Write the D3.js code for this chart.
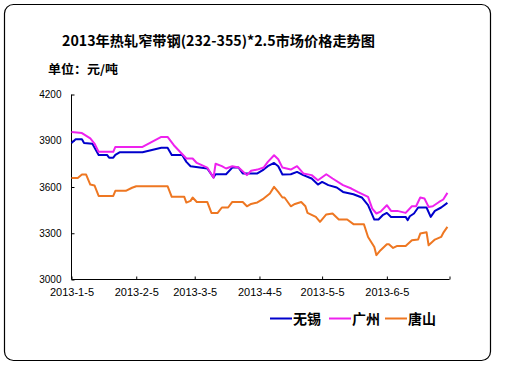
<!doctype html>
<html lang="zh">
<head>
<meta charset="utf-8">
<style>
html, body { margin: 0; padding: 0; background: #fff; overflow: hidden; }
svg { display: block; }
.tick text { font-family: "Liberation Sans", Arial, sans-serif; font-size: 11px; fill: #000; }
.y-axis .tick text { font-size: 10px; }
.cjk { font-family: "Noto Sans CJK SC", sans-serif; font-weight: bold; fill: #000; }
</style>
</head>
<body>
<svg id="chart" width="512" height="384"></svg>
<script src="https://cdn.jsdelivr.net/npm/d3@7/dist/d3.min.js"></script>
<script>
const title = '2013年热轧窄带钢(232-355)*2.5市场价格走势图';
const unitLabel = '单位：元/吨';
const seriesNames = ['无锡', '广州', '唐山'];
const seriesColors = ['#0000cc', '#ee22ee', '#ee7722'];
const yTicks = [3000, 3300, 3600, 3900, 4200];
const xTickLabels = ['2013-1-5', '2013-2-5', '2013-3-5', '2013-4-5', '2013-5-5', '2013-6-5', '2013-7-5'];

// [date, price]
const wuxi = [
  ['1-5',3886],['1-7',3910],['1-10',3910],['1-11',3886],['1-15',3880],['1-18',3808],['1-22',3808],
  ['1-23',3790],['1-25',3790],['1-26',3808],['1-28',3825],['2-8',3825],['2-17',3855],['2-20',3855],
  ['2-22',3808],['2-27',3808],['3-1',3763],['3-3',3735],['3-11',3720],['3-14',3662],['3-15',3683],
  ['3-20',3683],['3-23',3726],['3-26',3726],['3-28',3688],['4-4',3688],['4-7',3713],['4-9',3735],
  ['4-12',3756],['4-14',3735],['4-16',3681],['4-20',3683],['4-23',3698],['4-26',3677],['4-30',3655],
  ['5-3',3616],['5-5',3633],['5-8',3612],['5-12',3597],['5-15',3568],['5-20',3553],['5-24',3532],
  ['5-27',3482],['5-30',3389],['6-1',3389],['6-3',3417],['6-5',3432],['6-7',3406],['6-14',3406],
  ['6-15',3385],['6-16',3410],['6-18',3428],['6-20',3467],['6-24',3467],['6-26',3406],['6-28',3445],
  ['7-1',3467],['7-4',3497]
];
const guangzhou = [
  ['1-5',3957],['1-10',3950],['1-14',3915],['1-16',3882],['1-18',3828],['1-25',3828],['1-26',3860],
  ['2-8',3860],['2-17',3925],['2-20',3925],['2-23',3871],['3-1',3785],['3-4',3785],['3-6',3756],
  ['3-11',3726],['3-14',3660],['3-15',3751],['3-18',3735],['3-20',3720],['3-23',3735],['3-26',3726],
  ['3-30',3677],['4-1',3705],['4-4',3713],['4-7',3726],['4-9',3763],['4-12',3806],['4-14',3780],
  ['4-16',3726],['4-20',3713],['4-23',3735],['4-26',3688],['4-30',3677],['5-3',3644],['5-7',3683],
  ['5-10',3655],['5-15',3612],['5-19',3590],['5-22',3568],['5-27',3536],['5-29',3460],['5-31',3428],
  ['6-2',3440],['6-5',3482],['6-7',3445],['6-10',3445],['6-14',3432],['6-17',3475],['6-19',3475],
  ['6-21',3532],['6-23',3525],['6-25',3471],['6-27',3475],['6-30',3503],['7-2',3519],['7-4',3562]
];
const tangshan = [
  ['1-5',3659],['1-8',3659],['1-10',3681],['1-12',3681],['1-14',3616],['1-16',3610],['1-18',3542],
  ['1-25',3542],['1-26',3575],['1-31',3575],['2-3',3595],['2-5',3605],['2-20',3605],['2-22',3536],
  ['2-28',3536],['3-1',3499],['3-3',3510],['3-4',3532],['3-6',3503],['3-11',3503],['3-13',3432],
  ['3-16',3432],['3-18',3467],['3-21',3467],['3-23',3503],['3-28',3503],['3-30',3475],['4-1',3490],
  ['4-4',3500],['4-7',3525],['4-10',3558],['4-12',3601],['4-14',3568],['4-16',3532],['4-17',3532],
  ['4-20',3475],['4-22',3490],['4-25',3503],['4-27',3475],['4-28',3432],['5-2',3406],['5-4',3374],
  ['5-7',3422],['5-10',3428],['5-13',3389],['5-17',3389],['5-20',3359],['5-25',3359],['5-27',3276],
  ['5-30',3211],['5-31',3158],['6-2',3190],['6-5',3229],['6-6',3229],['6-8',3205],['6-10',3218],
  ['6-14',3218],['6-17',3255],['6-20',3260],['6-21',3298],['6-24',3307],['6-25',3222],['6-28',3259],
  ['7-1',3276],['7-2',3302],['7-4',3341]
];
const allSeries = [wuxi, guangzhou, tangshan];

const parse = d3.timeParse('%Y-%m-%d');
const toDate = s => parse('2013-' + s);

const svg = d3.select('#chart');

// outer frame
svg.append('rect')
  .attr('x', 4.5).attr('y', 4.5).attr('width', 486).attr('height', 356)
  .attr('rx', 9).attr('ry', 9)
  .attr('fill', 'none').attr('stroke', '#000').attr('stroke-width', 1.2);

svg.append('text').attr('class', 'cjk')
  .attr('x', 62).attr('y', 46).attr('font-size', 14)
  .attr('textLength', 313).attr('lengthAdjust', 'spacingAndGlyphs')
  .text(title);

svg.append('text').attr('class', 'cjk')
  .attr('x', 48).attr('y', 74).attr('font-size', 12)
  .attr('textLength', 70).attr('lengthAdjust', 'spacingAndGlyphs')
  .text(unitLabel);

const x = d3.scaleTime()
  .domain([toDate('1-5'), toDate('7-5')])
  .range([71.5, 449.5]);
const y = d3.scaleLinear()
  .domain([3000, 4200])
  .range([279.5, 94.5]);

const xAxis = d3.axisBottom(x)
  .tickValues(xTickLabels.map(s => parse(s)))
  .tickSize(-3)
  .tickPadding(9)
  .tickFormat((d, i) => i < 6 ? xTickLabels[i] : '');
const gX = svg.append('g').attr('transform', 'translate(0,279.5)').call(xAxis);
gX.select('.domain').attr('d', 'M71.5,0H449.5');

const yAxis = d3.axisLeft(y)
  .tickValues(yTicks)
  .tickSize(-3)
  .tickPadding(10)
  .tickFormat(d3.format('d'));
const gY = svg.append('g').attr('class', 'y-axis').attr('transform', 'translate(71.5,0)').call(yAxis);
gY.select('.domain').attr('d', 'M0,94.5V279.5');
svg.selectAll('.domain, .tick line').attr('stroke', '#000');

const line = d3.line()
  .x(d => x(toDate(d[0])))
  .y(d => y(d[1]));

allSeries.forEach((s, i) => {
  svg.append('path')
    .datum(s)
    .attr('d', line)
    .attr('fill', 'none')
    .attr('stroke', seriesColors[i])
    .attr('stroke-width', 2)
    .attr('stroke-linejoin', 'round');
});

// legend
const legendX = [270, 329, 385];
const legend = svg.append('g');
seriesNames.forEach((name, i) => {
  legend.append('line')
    .attr('x1', legendX[i]).attr('x2', legendX[i] + 22)
    .attr('y1', 318.5).attr('y2', 318.5)
    .attr('stroke', seriesColors[i]).attr('stroke-width', 2);
  legend.append('text').attr('class', 'cjk')
    .attr('x', legendX[i] + 23).attr('y', 324).attr('font-size', 14)
    .text(name);
});
</script>
</body>
</html>
